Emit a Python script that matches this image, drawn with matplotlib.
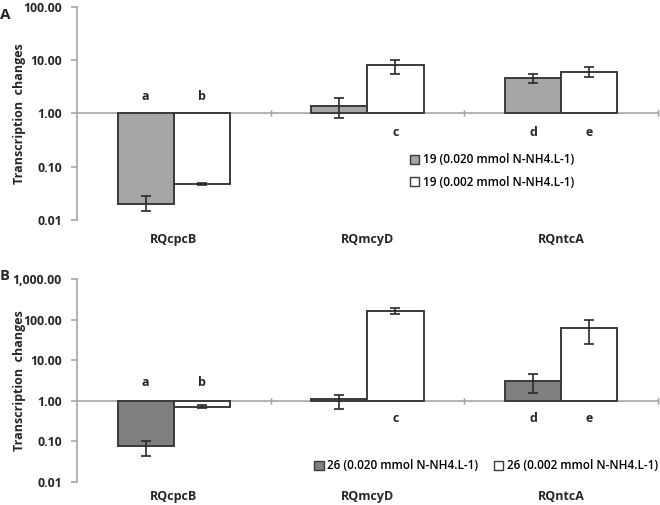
import numpy as np
import matplotlib
matplotlib.use("Agg")
import matplotlib.pyplot as plt
from matplotlib.patches import Patch
from matplotlib.ticker import FixedLocator, NullLocator

plt.rcParams['font.family'] = ['Open Sans', 'DejaVu Sans']

# Data
genes = ["RQcpcB", "RQmcyD", "RQntcA"]

a_high = [0.020, 1.40, 4.6]          # 19 (0.020 mmol N-NH4.L-1)
a_high_lo = [0.0148, 0.81, 3.7]
a_high_hi = [0.0277, 1.96, 5.4]
a_low = [0.048, 8.3, 6.1]            # 19 (0.002 mmol N-NH4.L-1)
a_low_lo = [0.045, 5.6, 4.8]
a_low_hi = [0.050, 10.2, 7.3]

b_high = [0.075, 1.08, 3.1]          # 26 (0.020 mmol N-NH4.L-1)
b_high_lo = [0.043, 0.63, 1.6]
b_high_hi = [0.105, 1.40, 4.6]
b_low = [0.71, 160.0, 62.0]          # 26 (0.002 mmol N-NH4.L-1)
b_low_lo = [0.66, 135.0, 25.0]
b_low_hi = [0.78, 190.0, 96.0]

letters = ["a", "b", "c", "d", "e"]
a_labels = ["19 (0.020 mmol N-NH4.L-1)", "19 (0.002 mmol N-NH4.L-1)"]
b_labels = ["26 (0.020 mmol N-NH4.L-1)", "26 (0.002 mmol N-NH4.L-1)"]

a_ticks = [0.01, 0.1, 1, 10, 100]
a_ticklabels = ["0.01", "0.10", "1.00", "10.00", "100.00"]
b_ticks = [0.01, 0.1, 1, 10, 100, 1000]
b_ticklabels = ["0.01", "0.10", "1.00", "10.00", "100.00", "1,000.00"]

AXIS_C = "#a6a6a6"
EDGE_C = "#3a3a3a"
TXT_C = "#262626"


def draw_panel(ax, hi, hi_lo, hi_hi, lo, lo_lo, lo_hi, fill, ticks, ticklabels,
               up_off, down_off, cat_off):
    x = np.arange(len(genes))
    w = 0.29
    xs = [x - w / 2, x + w / 2]
    ax.set_yscale("log")
    ax.set_xlim(-0.5, 2.5)
    ax.set_ylim(ticks[0], ticks[-1])
    for xpos, vals, vlo, vhi, col in [(xs[0], hi, hi_lo, hi_hi, fill),
                                      (xs[1], lo, lo_lo, lo_hi, "white")]:
        vals = np.array(vals)
        ax.bar(xpos, vals - 1, bottom=1, width=w, color=col,
               edgecolor=EDGE_C, linewidth=1.4, zorder=2)
        err = [vals - np.array(vlo), np.array(vhi) - vals]
        ax.errorbar(xpos, vals, yerr=err, fmt="none", ecolor="#2a2a2a",
                    elinewidth=1.2, capsize=3.5, capthick=1.2, zorder=3)
    ax.axhline(1, color=AXIS_C, lw=1.2, zorder=1)
    for b in [0.5, 1.5, 2.5]:
        ax.plot([b, b], [1, 1], marker="|", markersize=5, color=AXIS_C,
                clip_on=False, zorder=1)
    # significance letters
    lx = [xs[0][0], xs[1][0], xs[1][1], xs[0][2], xs[1][2]]
    lup = [True, True, False, False, False]
    for t, xx, up in zip(letters, lx, lup):
        ax.annotate(t, (xx, 1), xytext=(0, up_off if up else -down_off),
                    textcoords="offset points", ha="center", va="center",
                    fontsize=9, fontweight="bold", color=TXT_C)
    for i, g in enumerate(genes):
        ax.annotate(g, (x[i], 0), xycoords=ax.get_xaxis_transform(),
                    xytext=(0, -cat_off), textcoords="offset points",
                    ha="center", va="center", fontsize=9, fontweight="bold",
                    color=TXT_C)
    for s in ["top", "right", "bottom"]:
        ax.spines[s].set_visible(False)
    ax.spines["left"].set_color(AXIS_C)
    ax.spines["left"].set_linewidth(1.2)
    ax.yaxis.set_major_locator(FixedLocator(ticks))
    ax.yaxis.set_minor_locator(NullLocator())
    ax.set_yticklabels(ticklabels, fontsize=8.8, fontweight="bold", color=TXT_C)
    ax.tick_params(axis="y", length=4, color=AXIS_C, width=1.2, pad=7)
    ax.set_xticks([])
    ax.set_ylabel("Transcription  changes", fontsize=9, fontweight="bold",
                  color=TXT_C)
    ax.yaxis.set_label_coords(-0.0875, 0.5)


fig = plt.figure(figsize=(6.6, 5.05), dpi=100)
ax_a = fig.add_axes([0.1167, 0.5644, 0.880, 0.4218])
ax_b = fig.add_axes([0.1167, 0.0455, 0.880, 0.4020])

draw_panel(ax_a, a_high, a_high_lo, a_high_hi, a_low, a_low_lo, a_low_hi,
           "#a6a6a6", a_ticks, a_ticklabels, 12, 14, 14)
draw_panel(ax_b, b_high, b_high_lo, b_high_hi, b_low, b_low_lo, b_low_hi,
           "#7f7f7f", b_ticks, b_ticklabels, 13, 12.5, 10.5)

handles_a = [Patch(facecolor="#a6a6a6", edgecolor=EDGE_C, lw=1),
             Patch(facecolor="white", edgecolor=EDGE_C, lw=1)]
ax_a.legend(handles_a, a_labels, loc="upper left",
            bbox_to_anchor=(0.555, 0.362), frameon=False,
            handlelength=0.8, handleheight=0.8, handletextpad=0.3,
            labelspacing=0.8, prop={"weight": "semibold", "size": 8.5})

handles_b = [Patch(facecolor="#7f7f7f", edgecolor=EDGE_C, lw=1),
             Patch(facecolor="white", edgecolor=EDGE_C, lw=1)]
ax_b.legend(handles_b, b_labels, loc="upper left", ncol=2,
            bbox_to_anchor=(0.39, 0.165), frameon=False,
            handlelength=0.8, handleheight=0.8, handletextpad=0.3,
            columnspacing=1.3, prop={"weight": "semibold", "size": 8.5})

fig.text(0.0, 0.985, "A", fontsize=11, fontweight="bold", color=TXT_C,
         va="top")
fig.text(0.0, 0.468, "B", fontsize=10.5, fontweight="bold", color=TXT_C,
         va="top")

fig.savefig("out.png", dpi=100)
